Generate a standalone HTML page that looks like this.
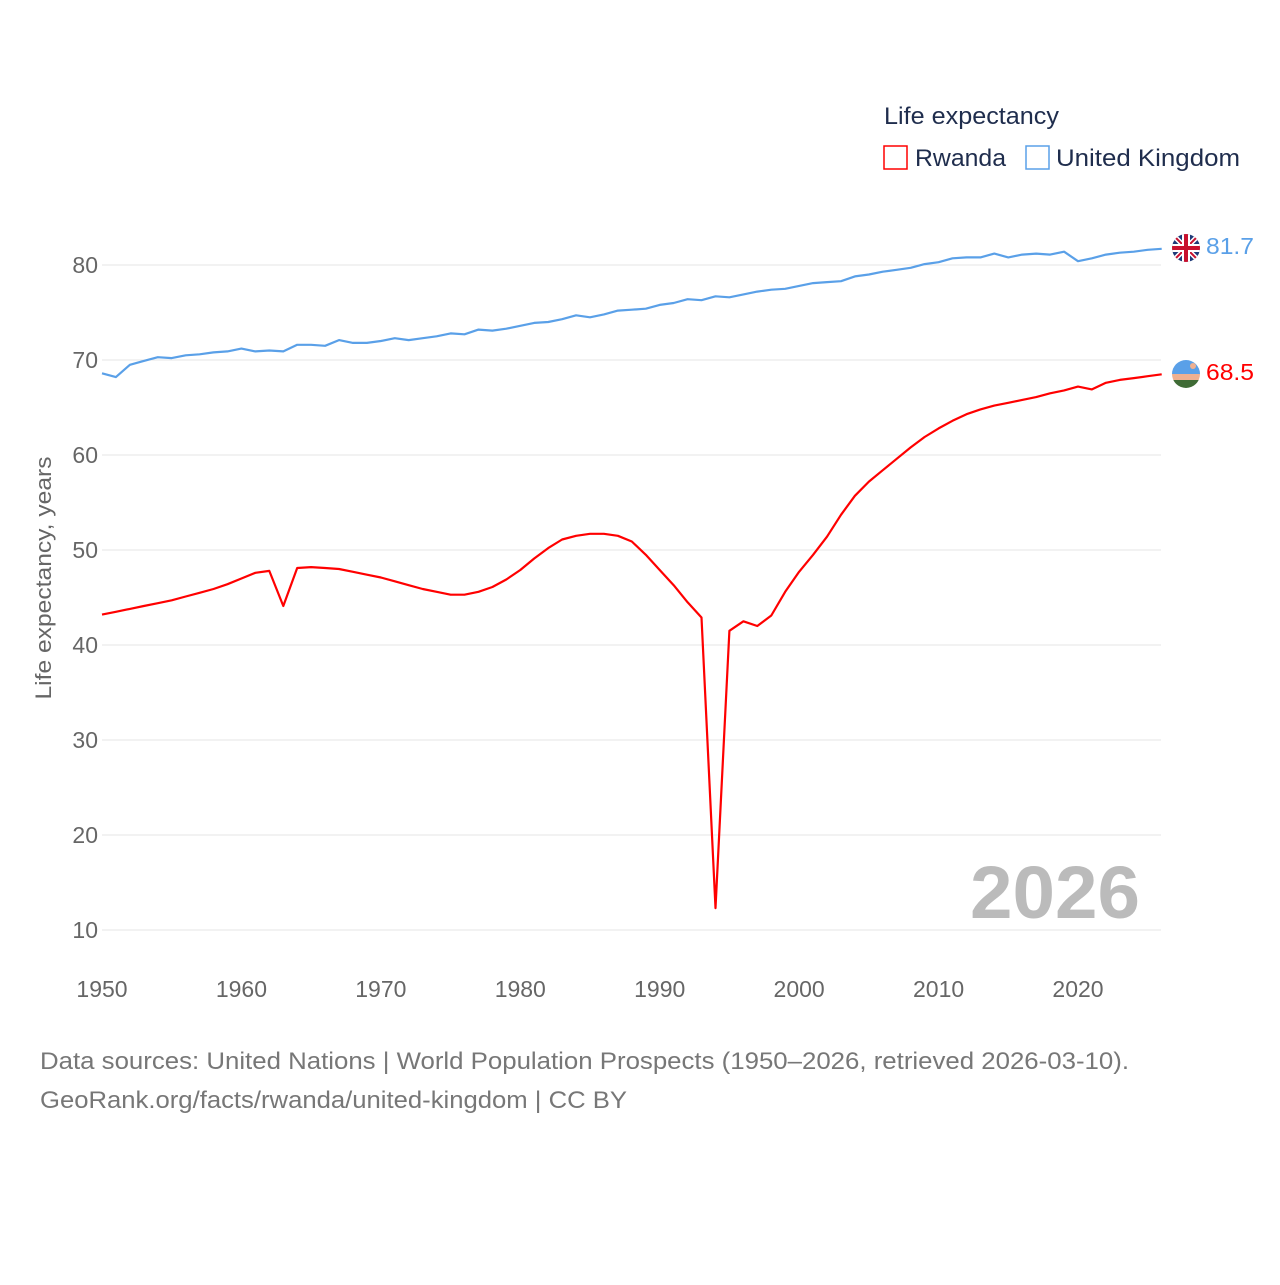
<!DOCTYPE html>
<html><head><meta charset="utf-8"><style>
body{margin:0;background:#fff;font-family:"Liberation Sans",sans-serif}
svg text{font-family:"Liberation Sans",sans-serif}
</style></head><body>
<svg width="1280" height="1280" viewBox="0 0 1280 1280">
<text x="884" y="124" font-size="24" fill="#1f2d4d" textLength="175" lengthAdjust="spacingAndGlyphs">Life expectancy</text>
<g><rect x="884" y="146" width="23" height="23" fill="none" stroke="#f00" stroke-width="1.5"/><text x="915" y="166" font-size="24" fill="#1f2d4d" textLength="91" lengthAdjust="spacingAndGlyphs">Rwanda</text></g>
<g><rect x="1026" y="146" width="23" height="23" fill="none" stroke="#5aa0e8" stroke-width="1.5"/><text x="1056" y="166" font-size="24" fill="#1f2d4d" textLength="184" lengthAdjust="spacingAndGlyphs">United Kingdom</text></g>
<g id="grid"></g><g id="yt"></g><g id="xt"></g>
<text transform="translate(51,578) rotate(-90)" text-anchor="middle" font-size="22" fill="#666" textLength="243" lengthAdjust="spacingAndGlyphs">Life expectancy, years</text>
<text x="1140" y="918" text-anchor="end" font-size="74" font-weight="bold" fill="#bbb" textLength="170" lengthAdjust="spacingAndGlyphs">2026</text>
<g id="series"></g>
<g><clipPath id="c1"><circle cx="1186" cy="248" r="14"/></clipPath><g clip-path="url(#c1)"><rect x="1170" y="232" width="32" height="32" fill="#1e3a78"/><path d="M1170 232L1202 264M1202 232L1170 264" stroke="#fff" stroke-width="5"/><path d="M1170 232L1202 264M1202 232L1170 264" stroke="#c8102e" stroke-width="2"/><path d="M1186 232V264M1170 248H1202" stroke="#fff" stroke-width="8"/><path d="M1186 232V264M1170 248H1202" stroke="#c8102e" stroke-width="4"/></g></g>
<g><clipPath id="c2"><circle cx="1186" cy="374" r="14"/></clipPath><g clip-path="url(#c2)"><rect x="1170" y="358" width="32" height="16" fill="#5aa0e8"/><rect x="1170" y="374" width="32" height="6" fill="#f0b090"/><rect x="1170" y="380" width="32" height="10" fill="#3f6b35"/><circle cx="1193" cy="366" r="3" fill="#f0b090"/></g></g>
<text x="1206" y="254" font-size="23" fill="#5aa0e8" textLength="48" lengthAdjust="spacingAndGlyphs">81.7</text>
<text x="1206" y="380" font-size="23" fill="#f00" textLength="48" lengthAdjust="spacingAndGlyphs">68.5</text>
<text x="40" y="1069" font-size="24" fill="#777" textLength="1089" lengthAdjust="spacingAndGlyphs">Data sources: United Nations | World Population Prospects (1950–2026, retrieved 2026-03-10).</text>
<text x="40" y="1108" font-size="24" fill="#777" textLength="587" lengthAdjust="spacingAndGlyphs">GeoRank.org/facts/rwanda/united-kingdom | CC BY</text>
</svg>
<script>
const years=[];for(let y=1950;y<=2026;y++)years.push(y);
const ukValues=[68.6,68.2,69.5,69.9,70.3,70.2,70.5,70.6,70.8,70.9,71.2,70.9,71.0,70.9,71.6,71.6,71.5,72.1,71.8,71.8,72.0,72.3,72.1,72.3,72.5,72.8,72.7,73.2,73.1,73.3,73.6,73.9,74.0,74.3,74.7,74.5,74.8,75.2,75.3,75.4,75.8,76.0,76.4,76.3,76.7,76.6,76.9,77.2,77.4,77.5,77.8,78.1,78.2,78.3,78.8,79.0,79.3,79.5,79.7,80.1,80.3,80.7,80.8,80.8,81.2,80.8,81.1,81.2,81.1,81.4,80.4,80.7,81.1,81.3,81.4,81.6,81.7];
const rwandaValues=[43.2,43.5,43.8,44.1,44.4,44.7,45.1,45.5,45.9,46.4,47.0,47.6,47.8,44.1,48.1,48.2,48.1,48.0,47.7,47.4,47.1,46.7,46.3,45.9,45.6,45.3,45.3,45.6,46.1,46.9,47.9,49.1,50.2,51.1,51.5,51.7,51.7,51.5,50.9,49.5,47.9,46.3,44.5,42.9,12.3,41.5,42.5,42.0,43.1,45.6,47.7,49.5,51.4,53.7,55.7,57.2,58.4,59.6,60.8,61.9,62.8,63.6,64.3,64.8,65.2,65.5,65.8,66.1,66.5,66.8,67.2,66.9,67.6,67.9,68.1,68.3,68.5];
const yTicks=[10,20,30,40,50,60,70,80];
const xTicks=[1950,1960,1970,1980,1990,2000,2010,2020];
const NS="http://www.w3.org/2000/svg";
const xs=y=>102+(y-1950)*976/70;
const ys=v=>265+(80-v)*9.5;
function mk(t,a,p){const e=document.createElementNS(NS,t);for(const k in a)e.setAttribute(k,a[k]);p.appendChild(e);return e;}
const grid=document.getElementById('grid'),yt=document.getElementById('yt'),xt=document.getElementById('xt'),ser=document.getElementById('series');
yTicks.forEach(v=>{
 const l=mk('line',{x1:102,x2:1161,y1:ys(v),y2:ys(v),stroke:'#e6e6e6','stroke-width':1},grid);
 
 
 const t=mk('text',{x:98,y:ys(v)+8,'text-anchor':'end','font-size':23,fill:'#666'},yt);t.textContent=v;
 
 
});
xTicks.forEach(v=>{
 const t=mk('text',{x:xs(v),y:997,'text-anchor':'middle','font-size':23,fill:'#666'},xt);t.textContent=v;
 
 
});
function line(vals,col,name){
 const d=vals.map((v,i)=>(i?'L':'M')+xs(years[i]).toFixed(1)+' '+ys(v).toFixed(1)).join('');
 const p=mk('path',{d:d,fill:'none',stroke:col,'stroke-width':2.2,'stroke-linejoin':'round'},ser);
 
 
}
line(ukValues,'#5aa0e8','uk-line');
line(rwandaValues,'#f00','rwanda-line');
</script>
</body></html>
